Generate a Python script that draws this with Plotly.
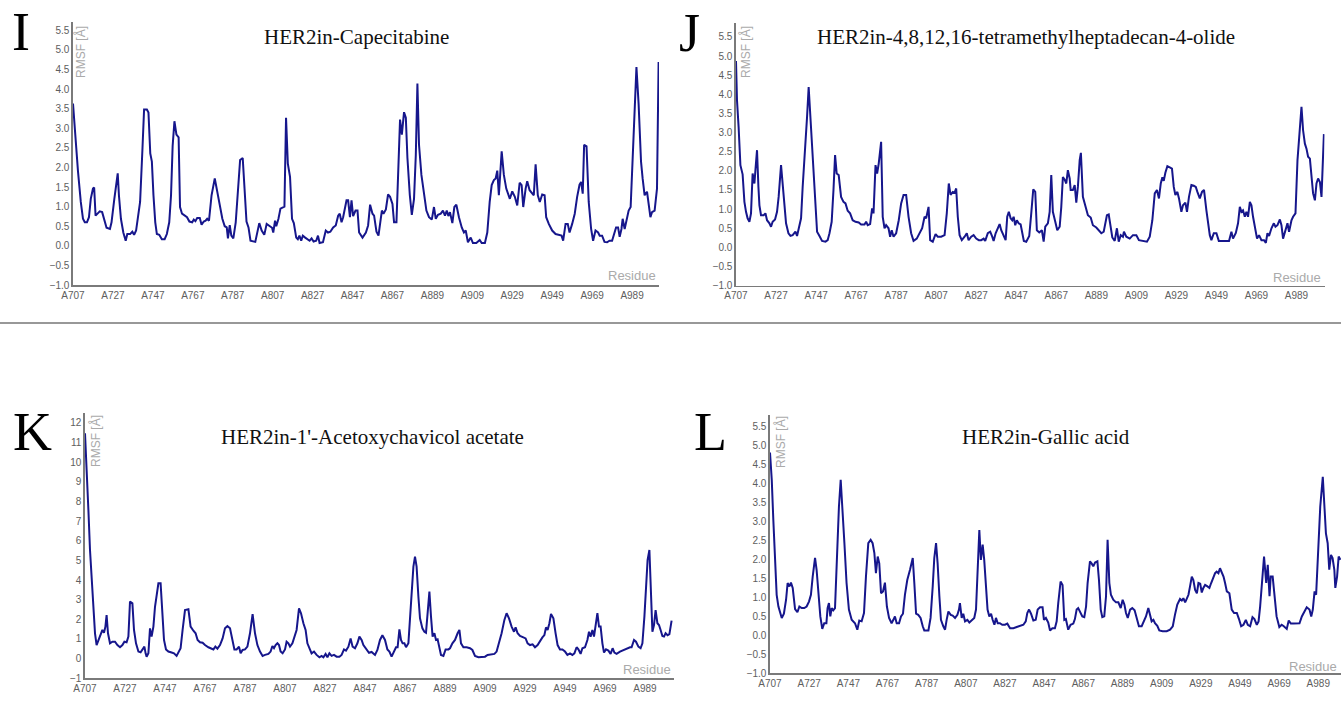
import plotly.graph_objects as go

W, H = 1341, 711

# ---------------- data ----------------
tick_idx = [0, 20, 40, 60, 80, 100, 120, 140, 160, 180, 200, 220, 240, 260, 280]
tick_labels = ["A707", "A727", "A747", "A767", "A787", "A807", "A827", "A847",
               "A867", "A889", "A909", "A929", "A949", "A969", "A989"]

titles = ["HER2in-Capecitabine",
          "HER2in-4,8,12,16-tetramethylheptadecan-4-olide",
          "HER2in-1'-Acetoxychavicol acetate",
          "HER2in-Gallic acid"]
letters = ["I", "J", "K", "L"]

# Panel I : residue index (0 = A707) and RMSF
I_pos = [0, 0.5, 1.7, 2.5, 3.9, 5, 5.9, 7, 8, 8.9, 10, 10.6, 11.3, 12.3, 13.4, 14.6, 15.6, 16.8, 18.5, 19.3,
         20.7, 22.4, 23, 24, 25.2, 26.4, 27.2, 28.6, 29.7, 30.6, 31.6, 32.8, 33.6, 34.8, 35.6, 37, 37.8, 38.7,
         39.5, 40.3, 41.2, 42, 43.2, 44.5, 45.9, 47, 48.2, 49.1, 49.9, 50.8, 51.8, 52.9, 53.6, 54.6, 56, 57.1,
         58.3, 59.7, 60.5, 61.3, 62.2, 63.5, 64.4, 65.5, 66.4, 67.2, 68.1, 69.4, 71, 72.3, 73.4, 74.8, 76, 77,
         77.6, 78.5, 79.3, 80.3, 81.5, 82.7, 83.7, 85, 85.9, 86.9, 87.9, 88.9, 91.3, 92.4, 93.3, 94.5, 95.8, 97,
         98.3, 99.7, 100.3, 101.2, 101.8, 102.9, 103.9, 105, 105.9, 106.7, 107.6, 108.7, 109.7, 110.6, 111.8,
         112.6, 113.4, 114.3, 115.1, 116.3, 117.3, 118.5, 119.5, 120.5, 121.8, 122.7, 123.5, 125.2, 126.6, 127.7,
         128.9, 130.3, 131.6, 132.8, 133.6, 134.5, 135.3, 137, 137.8, 138.7, 139.5, 140.3, 141.5, 142.5, 143.3,
         145, 146.7, 147.8, 148.8, 150, 150.8, 152, 153, 153.8, 154.7, 155.5, 156.7, 157.8, 158.8, 160, 160.8,
         162, 163, 163.8, 164.7, 165.8, 166.7, 167.5, 168.7, 169.7, 170.8, 171.7, 172.5, 173.3, 174.5, 175.8,
         177, 178.3, 179.7, 180.8, 181.7, 182.8, 184.2, 185.3, 186.3, 187.2, 188, 188.8, 190, 191, 192, 193.3,
         194.7, 195.8, 196.7, 197.8, 199.2, 200.3, 202, 203.7, 204.7, 206.3, 207.5, 208.7, 209.7, 210.8, 211.7,
         212.5, 213.3, 214.7, 215.8, 217, 218, 218.8, 220, 221.3, 222.5, 223.7, 224.7, 225.5, 226.7, 227.5,
         228.7, 230, 230.8, 231.7, 232.8, 233.8, 235, 236.2, 237, 238.3, 240, 241.7, 243.3, 244.7, 245.5, 246.7,
         247.8, 248.7, 250, 251.3, 252.5, 253.7, 254.5, 255.3, 256, 257.2, 258.3, 259.5, 260.5, 261.7, 263,
         263.8, 265, 266.2, 267.5, 268.7, 270, 270.8, 272, 273, 273.8, 274.7, 275.3, 276.3, 277.5, 278.3, 279.3,
         280.5, 282.2, 283.3, 284.5, 285.3, 286.3, 287.5, 288.3, 289.2, 290, 291.3, 292.5, 293.3]
I_rmsf = [3.63, 3.27, 2.24, 1.9, 1.12, 0.69, 0.6, 0.6, 0.73, 1.2, 1.46, 1.49, 0.77, 0.82, 0.88, 0.86, 0.64, 0.46,
          0.43, 0.6, 1.2, 1.85, 1.29, 0.69, 0.34, 0.13, 0.3, 0.3, 0.36, 0.28, 0.39, 0.86, 1.12, 2.49, 3.48, 3.48,
          3.4, 2.36, 2.15, 1.29, 0.6, 0.3, 0.28, 0.17, 0.17, 0.3, 0.6, 1.29, 2.54, 3.18, 2.84, 2.77, 0.99, 0.82,
          0.77, 0.73, 0.62, 0.6, 0.67, 0.63, 0.71, 0.71, 0.54, 0.62, 0.64, 0.69, 0.64, 1.29, 1.72, 1.38, 1.03,
          0.69, 0.5, 0.47, 0.19, 0.53, 0.26, 0.19, 0.6, 1.55, 2.19, 2.24, 1.42, 0.62, 0.47, 0.13, 0.1, 0.34, 0.58,
          0.39, 0.28, 0.56, 0.52, 0.46, 0.34, 0.64, 0.5, 0.69, 0.95, 0.99, 1.0, 3.27, 2.1, 1.76, 0.69, 0.58, 0.21,
          0.17, 0.26, 0.13, 0.26, 0.21, 0.17, 0.13, 0.19, 0.11, 0.13, 0.26, 0.07, 0.09, 0.39, 0.34, 0.36, 0.47,
          0.52, 0.77, 0.82, 0.6, 0.73, 1.16, 1.16, 0.73, 1.16, 0.76, 0.9, 0.9, 0.34, 0.21, 0.34, 0.52, 1.05, 0.82,
          0.77, 0.36, 0.26, 0.6, 0.9, 0.82, 0.93, 1.31, 1.25, 1.07, 0.6, 0.6, 2.32, 3.22, 2.84, 3.41, 3.27, 2.24,
          1.29, 0.79, 1.2, 2.32, 4.14, 2.58, 1.81, 1.29, 0.9, 0.73, 0.67, 0.99, 0.69, 0.79, 0.82, 0.9, 0.77, 0.9,
          0.76, 0.86, 0.58, 0.99, 1.05, 0.73, 0.47, 0.34, 0.39, 0.09, 0.21, 0.07, 0.07, 0.15, 0.07, 0.07, 0.34,
          1.12, 1.55, 1.68, 1.72, 1.92, 1.29, 2.41, 1.81, 1.46, 1.29, 1.2, 1.39, 1.25, 1.03, 1.61, 1.55, 0.99,
          1.46, 1.65, 1.42, 1.33, 1.29, 2.08, 1.29, 1.12, 1.31, 1.29, 0.73, 0.56, 0.39, 0.3, 0.28, 0.26, 0.13,
          0.56, 0.56, 0.34, 0.56, 0.82, 1.25, 1.56, 1.63, 1.33, 2.58, 2.54, 1.12, 0.43, 0.13, 0.39, 0.34, 0.26,
          0.26, 0.1, 0.09, 0.13, 0.13, 0.26, 0.47, 0.47, 0.23, 0.43, 0.69, 0.43, 0.69, 0.9, 0.99, 2.41, 4.56,
          3.61, 2.15, 1.72, 1.29, 1.38, 1.12, 0.73, 0.86, 0.9, 1.46, 4.69]

# Panel J
J_pos = [0, 0.5, 1.3, 2.2, 3.3, 4.2, 5, 5.8, 6.7, 7.5, 8.3, 9.2, 9.7, 10.5, 11.2, 11.7, 12.5, 13.8, 14.7, 15.5,
         16.7, 17.5, 18.3, 19.5, 20.5, 21.3, 22.5, 23.3, 24.2, 25, 26.2, 27.2, 28.3, 29.7, 30.5, 31.7, 32.5,
         33.3, 34.7, 35.5, 36.3, 37.2, 38.3, 39.7, 40.5, 41.7, 43, 44.7, 45.8, 46.7, 47.8, 48.7, 49.5, 50.3,
         51.3, 52.5, 53.7, 54.7, 55.8, 57, 58.3, 59.7, 61.3, 62.5, 64.2, 65, 65.8, 67, 68, 68.7, 69.7, 70.5,
         71.3, 72.5, 73.3, 74.2, 75, 76.2, 77, 77.8, 78.7, 80, 81.3, 82.5, 83.7, 85, 86.2, 87.5, 88.7, 90.3,
         91.7, 93, 94.2, 95, 96.2, 97, 98.3, 99.7, 100.8, 102.5, 104.2, 105.3, 106.3, 107.2, 108.3, 109.2, 110,
         110.8, 111.7, 112.8, 114.2, 115.3, 116.2, 117.5, 118.7, 120, 121.3, 122.5, 123.7, 124.5, 125.8, 127,
         128, 128.7, 129.7, 130.8, 131.7, 132.5, 133.7, 134.7, 135.5, 136.3, 137.2, 138, 138.7, 139.5, 140.3,
         141.2, 142.2, 143, 143.8, 145, 146.5, 147.5, 148.5, 149.5, 150.3, 151.5, 152.8, 153.7, 154.5, 155.8,
         156.7, 157.5, 158.3, 159.5, 160.5, 161.7, 162.5, 163.3, 164.2, 165, 165.8, 166.7, 167.2, 168.3, 169.2,
         170, 170.8, 171.7, 172.3, 173.3, 174.5, 175.8, 177.2, 178.3, 180, 181.3, 182.5, 183.7, 184.7, 185.3,
         186.2, 187, 188, 189.2, 190.3, 191.2, 192.2, 193.3, 193.8, 195, 196.7, 198.3, 200, 201.3, 203.3,
         205.3, 206.7, 208, 209.2, 210.3, 211.3, 212.2, 213, 213.7, 214.5, 215.5, 216.7, 217.8, 218.7, 219.5,
         220.5, 221.3, 222.5, 223.3, 224.5, 225.3, 226.3, 227.5, 228.7, 229.7, 230.5, 231.7, 232.8, 233.8, 235,
         235.8, 236.7, 237.5, 238.7, 240, 241.2, 243, 245, 246.3, 247.5, 248.3, 249.7, 250.8, 251.7, 252.5,
         253.3, 254.2, 255, 255.8, 256.7, 257.5, 258.3, 259.2, 260.3, 261.3, 262.5, 263.8, 264.7, 265.5, 266.3,
         267.5, 268.7, 269.5, 270.5, 271.7, 272.5, 273.3, 274.5, 275.5, 276.3, 277.5, 278.3, 279.5, 280.5,
         281.7, 282.5, 283.3, 284.2, 285, 285.8, 286.7, 287.5, 288.3, 289.2, 290, 290.8, 291.7, 292.5, 293.7]
J_rmsf = [4.87, 3.84, 3.15, 2.15, 1.91, 1.19, 0.93, 0.76, 0.67, 0.89, 1.93, 1.67, 2.02, 2.54, 1.58, 1.1, 0.84,
          0.84, 0.89, 0.71, 0.63, 0.54, 0.67, 0.73, 0.93, 1.32, 2.15, 1.67, 1.06, 0.63, 0.37, 0.3, 0.32, 0.41,
          0.3, 0.54, 0.76, 1.58, 2.63, 3.41, 4.19, 3.41, 2.19, 1.06, 0.41, 0.3, 0.17, 0.15, 0.19, 0.37, 0.67,
          1.5, 2.41, 1.93, 1.89, 1.32, 1.19, 1.15, 0.96, 0.89, 0.71, 0.67, 0.65, 0.6, 0.6, 0.67, 0.58, 0.61,
          1.02, 0.89, 2.15, 1.93, 2.19, 2.76, 0.8, 0.5, 0.58, 0.5, 0.28, 0.45, 0.28, 0.37, 0.71, 1.15, 1.37,
          1.37, 0.8, 0.37, 0.17, 0.23, 0.37, 0.5, 0.8, 0.76, 1.06, 0.19, 0.15, 0.35, 0.28, 0.28, 0.32, 0.89,
          1.67, 1.37, 1.45, 1.43, 1.54, 0.8, 0.32, 0.19, 0.28, 0.37, 0.19, 0.28, 0.32, 0.23, 0.19, 0.19, 0.23,
          0.17, 0.37, 0.41, 0.28, 0.17, 0.37, 0.5, 0.61, 0.45, 0.3, 0.19, 0.8, 0.93, 0.76, 0.71, 0.8, 0.58,
          0.71, 0.63, 0.6, 0.32, 0.17, 0.15, 0.3, 0.89, 1.52, 1.45, 0.45, 0.39, 0.45, 0.15, 0.54, 0.63, 0.93,
          1.89, 0.93, 0.67, 0.45, 0.54, 1.06, 1.84, 1.77, 1.67, 2.02, 1.8, 1.5, 1.5, 1.63, 1.17, 1.58, 2.28,
          2.47, 1.32, 1.06, 0.84, 0.78, 0.58, 0.52, 0.43, 0.37, 0.41, 0.63, 0.84, 0.86, 0.58, 0.26, 0.17, 0.5,
          0.15, 0.32, 0.28, 0.41, 0.28, 0.23, 0.32, 0.32, 0.19, 0.17, 0.15, 0.28, 0.71, 1.41, 1.5, 1.28, 1.67,
          1.83, 1.74, 1.95, 2.12, 2.09, 2.06, 1.58, 1.37, 1.45, 1.28, 0.93, 1.1, 1.17, 0.93, 1.32, 1.63, 1.61,
          1.58, 1.45, 1.28, 1.45, 1.5, 0.97, 0.67, 0.32, 0.19, 0.37, 0.37, 0.17, 0.17, 0.17, 0.17, 0.41, 0.23,
          0.38, 0.63, 1.06, 0.93, 0.97, 0.8, 0.93, 0.8, 1.19, 1.1, 0.8, 0.5, 0.23, 0.32, 0.19, 0.19, 0.12,
          0.37, 0.3, 0.5, 0.63, 0.54, 0.58, 0.73, 0.58, 0.23, 0.45, 0.63, 0.41, 0.71, 0.8, 0.89, 2.28, 3.15,
          3.67, 3.06, 2.71, 2.58, 2.37, 2.32, 1.93, 1.41, 1.23, 1.67, 1.8, 1.71, 1.32, 2.96]

# Panel K
K_pos = [0, 0.8, 1.7, 2.5, 3.3, 4.2, 5, 5.8, 6.7, 7.8, 8.7, 9.5, 10.2, 10.8, 11.5, 12.5, 13.7, 15, 16.2, 17.5,
         18.7, 19.7, 20.8, 21.7, 22.5, 23.7, 24.5, 25.5, 26.7, 27.8, 28.8, 29.7, 30.3, 30.8, 31.7, 32.5, 33.3,
         34.2, 35, 35.8, 36.7, 37.8, 38.7, 39.5, 40.5, 41.7, 43.3, 44.5, 45.8, 46.7, 47.8, 48.8, 50, 51.7, 52.8,
         54.2, 55.3, 56.3, 57.5, 58.8, 60, 61.7, 63.3, 64.2, 65.2, 66.2, 67.5, 68.8, 70, 71.2, 72.5, 73.7, 74.7,
         75.8, 77, 77.8, 78.8, 80, 81.2, 82.5, 83.8, 85, 86.2, 87.5, 88.8, 90, 91.7, 92.8, 93.7, 94.5, 95.3,
         96.2, 97, 97.8, 98.8, 100, 100.8, 101.7, 102.5, 103.7, 104.7, 105.8, 107, 108, 109.2, 110.3, 111.2,
         112.2, 113.3, 114.5, 115.8, 117.2, 118.3, 119.2, 120.3, 121.2, 122.2, 123.3, 124.5, 125.8, 127.2,
         128.3, 129.5, 130.5, 131.7, 132.8, 133.8, 135, 136.2, 137.2, 138.3, 139.2, 140, 140.8, 142, 143.3, 145,
         146.2, 147.5, 148.7, 150, 151.2, 152.2, 153.3, 154.5, 155.5, 156.3, 157.2, 158, 158.8, 159.7, 160.5,
         161.7, 162.5, 163.3, 164.2, 165, 165.8, 166.7, 167.5, 168.7, 169.7, 170.5, 171.3, 172.2, 173, 173.8,
         174.7, 175.5, 176.3, 177.2, 178, 179.2, 180.3, 181.7, 182.5, 183.7, 185, 186.3, 187.2, 188, 189.2,
         190.8, 192.5, 193.7, 195, 196.7, 198.3, 200, 201.3, 203, 204.7, 205.8, 207, 208.3, 209.7, 210.8, 212,
         213.3, 214.5, 215.3, 216.3, 217.5, 219.2, 220.3, 221.3, 222.5, 223.8, 225, 226.3, 227.5, 228.7, 229.7,
         230.5, 231.3, 232.2, 233, 234.2, 235.3, 236.3, 237.5, 238.7, 240, 241.2, 242.5, 243.7, 244.7, 245.8,
         246.7, 247.8, 248.7, 250, 251.2, 252, 252.8, 253.7, 254.5, 255.3, 256.2, 257, 257.8, 258.7, 259.5,
         260.5, 261.7, 262.8, 263.8, 264.7, 265.8, 267.5, 269.2, 270.8, 272.5, 273.3, 274.5, 275.5, 276.7,
         277.8, 278.7, 279.7, 280.5, 281.3, 282.2, 282.8, 283.7, 284.5, 285.3, 286.2, 287, 287.8, 288.7, 289.5,
         290.3, 291.3, 292.2, 293.3]
K_rmsf = [11.46, 9.85, 7.56, 5.53, 4.34, 2.47, 1.29, 0.69, 0.95, 1.2, 1.46, 1.32, 1.63, 2.22, 1.29, 0.78, 0.86,
          0.86, 0.69, 0.58, 0.69, 0.86, 0.83, 1.12, 2.9, 2.81, 1.46, 0.78, 0.36, 0.32, 0.47, 0.61, 0.27, 0.1,
          0.27, 1.54, 1.12, 1.63, 2.64, 3.32, 3.83, 3.83, 2.14, 0.95, 0.47, 0.36, 0.31, 0.27, 0.14, 0.36, 0.53,
          1.46, 2.47, 2.51, 1.63, 1.42, 1.29, 0.95, 0.83, 0.81, 0.69, 0.58, 0.53, 0.47, 0.61, 0.51, 0.69, 1.03,
          1.54, 1.66, 1.54, 0.95, 0.47, 0.47, 0.61, 0.27, 0.44, 0.47, 0.61, 1.29, 2.27, 1.29, 0.69, 0.36, 0.14,
          0.19, 0.24, 0.36, 0.64, 0.53, 0.69, 0.78, 0.69, 0.36, 0.27, 0.47, 0.86, 0.78, 0.61, 0.78, 1.12, 1.46,
          2.56, 2.31, 1.8, 1.46, 0.78, 0.53, 0.27, 0.36, 0.19, 0.07, 0.14, 0.07, 0.24, 0.07, 0.27, 0.14, 0.19,
          0.1, 0.1, 0.19, 0.47, 0.41, 0.61, 1.03, 0.61, 0.53, 0.78, 1.12, 0.95, 0.69, 0.58, 0.47, 0.3, 0.34,
          0.19, 0.44, 0.95, 1.19, 0.95, 0.47, 0.36, 0.1, 0.36, 0.58, 0.58, 1.49, 0.95, 0.78, 0.78, 0.58, 0.78,
          1.97, 3.49, 4.68, 5.19, 4.68, 3.15, 2.05, 1.54, 1.37, 1.32, 2.47, 3.41, 2.14, 1.12, 1.29, 0.95, 0.98,
          0.61, 0.19, 0.14, 0.47, 0.47, 0.53, 0.78, 0.95, 1.29, 1.46, 0.78, 0.58, 0.58, 0.53, 0.44, 0.14, 0.07,
          0.1, 0.1, 0.19, 0.22, 0.24, 0.36, 0.78, 1.29, 1.97, 2.31, 2.05, 1.63, 1.37, 1.59, 1.29, 1.15, 1.08,
          1.03, 0.78, 0.69, 0.73, 0.58, 0.69, 0.92, 1.08, 1.2, 1.59, 1.46, 1.8, 2.27, 2.05, 1.29, 0.69, 0.47,
          0.47, 0.36, 0.19, 0.27, 0.19, 0.27, 0.58, 0.47, 0.24, 0.53, 0.58, 0.95, 1.37, 1.12, 1.46, 1.12, 1.8,
          2.31, 1.63, 1.63, 0.78, 0.31, 0.47, 0.41, 0.24, 0.53, 0.31, 0.24, 0.36, 0.44, 0.53, 0.58, 0.58, 0.95,
          0.86, 0.61, 0.53, 0.78, 2.14, 3.83, 5.02, 5.53, 4.17, 1.37, 1.71, 2.47, 1.8, 1.71, 1.46, 1.15, 1.12,
          1.29, 1.19, 1.25, 1.93]

# Panel L
L_pos = [0, 0.9, 1.7, 2.6, 3.4, 4.3, 5.1, 6, 7.1, 8.2, 9, 9.9, 10.7, 11.6, 12.8, 14, 15, 16.2, 17.5, 18.7,
         19.9, 20.9, 21.8, 23, 23.8, 24.7, 25.7, 26.7, 27.7, 28.8, 29.4, 30.1, 30.8, 31.5, 32.3, 33.2, 34, 35.2,
         36.1, 36.9, 38, 39.1, 40.3, 41.7, 43.4, 44.6, 45.6, 46.8, 48, 49, 50.2, 51.4, 52.4, 53.3, 54.1, 55,
         55.8, 56.7, 57.7, 58.7, 59.7, 60.8, 62.1, 63, 63.8, 64.7, 65.9, 66.9, 67.9, 68.9, 70.1, 71.5, 72.9,
         73.7, 74.6, 75.7, 76.9, 78, 78.8, 80.9, 82, 83.1, 83.9, 84.8, 85.6, 86.5, 87.3, 88.5, 89.4, 90.2, 91.1,
         92.3, 93.3, 94.5, 95.7, 96.5, 97, 97.9, 98.7, 99.6, 100.8, 101.8, 103, 104.3, 105.2, 106, 106.9,
         107.7, 108.6, 109.4, 110.3, 111.1, 112, 112.9, 113.7, 114.6, 115.4, 116.3, 117.4, 118.6, 120, 121.2,
         122.6, 124.3, 126, 127.7, 129.4, 130.6, 131.4, 132.3, 133.3, 134.5, 135.7, 136.7, 137.9, 139.2, 139.9,
         140.9, 142.1, 143, 144.2, 145.5, 146.4, 147.2, 148.4, 149.4, 150.3, 151.1, 152.3, 153.5, 154.9, 155.7,
         156.6, 157.4, 158.3, 159.5, 160.5, 161.4, 162.2, 163.4, 164.3, 165.1, 166, 167.2, 168, 168.9, 169.7,
         170.7, 171.6, 172.4, 173.3, 174.1, 175.3, 176.7, 177.9, 179.1, 180.1, 181, 181.8, 182.7, 183.9, 185,
         186.2, 187.3, 188.4, 189.8, 191, 192, 193.2, 194.1, 194.9, 195.8, 196.6, 197.8, 198.8, 200.5, 202.6,
         204.3, 205.7, 206.8, 208, 209.4, 210.3, 211.1, 212, 212.8, 213.7, 214.5, 215.4, 216.2, 217.1, 218,
         218.8, 219.7, 220.5, 221.3, 222.2, 223.4, 224.4, 225.3, 226.4, 227.3, 228.1, 229, 229.8, 230.7, 231.6,
         232.4, 233.3, 234.6, 235.8, 237, 238.4, 239.5, 240.6, 241.8, 243, 244, 245.2, 246.4, 247.4, 248.6,
         249.5, 250.3, 251.2, 252.3, 253.4, 254.2, 255.1, 255.7, 256.7, 257.5, 258.7, 260.1, 261.3, 262.4,
         263.9, 264.9, 266, 267.3, 269, 270.4, 271.6, 272.8, 274.1, 275.5, 276.4, 277.2, 278.1, 278.9, 279.8,
         281, 282.3, 283.2, 283.9, 284.8, 285.6, 286.5, 287.3, 288.2, 288.7, 289.6, 290.4, 291.3]
L_rmsf = [4.82, 4.1, 3.04, 1.73, 1.07, 0.76, 0.59, 0.46, 0.57, 0.94, 1.38, 1.29, 1.39, 1.25, 0.69, 0.61, 0.76,
          0.72, 0.72, 0.76, 0.89, 1.07, 1.55, 2.04, 1.73, 1.03, 0.5, 0.17, 0.32, 0.32, 0.72, 0.85, 0.5, 0.72,
          0.66, 0.72, 1.82, 3.39, 4.1, 3.48, 2.43, 1.38, 0.68, 0.41, 0.32, 0.15, 0.39, 0.37, 0.59, 1.55, 2.43,
          2.52, 2.43, 2.17, 1.64, 2.08, 1.9, 1.11, 1.16, 1.39, 0.76, 0.46, 0.32, 0.41, 0.5, 0.32, 0.32, 0.5,
          0.57, 1.07, 1.46, 1.73, 2.04, 1.38, 0.57, 0.54, 0.46, 0.24, 0.13, 0.13, 0.46, 1.29, 2.04, 2.43, 1.9,
          1.03, 0.41, 0.24, 0.15, 0.41, 0.63, 0.54, 0.52, 0.46, 0.54, 0.68, 0.85, 0.46, 0.57, 0.37, 0.41, 0.34,
          0.39, 0.46, 0.68, 1.55, 2.78, 1.99, 2.39, 1.99, 1.29, 0.68, 0.5, 0.57, 0.41, 0.28, 0.46, 0.32, 0.32,
          0.28, 0.28, 0.31, 0.19, 0.19, 0.22, 0.24, 0.28, 0.37, 0.59, 0.68, 0.57, 0.39, 0.41, 0.68, 0.74, 0.74,
          0.41, 0.46, 0.34, 0.13, 0.19, 0.19, 0.37, 0.85, 1.42, 1.33, 0.41, 0.43, 0.15, 0.28, 0.31, 0.43, 0.68,
          0.72, 0.61, 0.5, 0.48, 0.76, 1.38, 1.95, 1.89, 1.82, 1.92, 1.95, 1.46, 0.68, 0.48, 0.5, 1.03, 2.52,
          1.38, 1.07, 0.94, 0.87, 0.87, 0.72, 0.94, 0.81, 0.59, 0.46, 0.68, 0.72, 0.66, 0.41, 0.24, 0.24, 0.37,
          0.5, 0.72, 0.5, 0.37, 0.41, 0.32, 0.25, 0.13, 0.11, 0.11, 0.15, 0.24, 0.54, 0.81, 0.96, 0.92, 0.98,
          0.87, 0.96, 1.07, 1.29, 1.55, 1.46, 1.2, 1.11, 1.38, 1.36, 1.13, 1.25, 1.33, 1.29, 1.25, 1.38, 1.55,
          1.64, 1.68, 1.64, 1.77, 1.66, 1.55, 1.38, 1.16, 1.11, 0.68, 0.59, 0.59, 0.43, 0.24, 0.28, 0.41, 0.28,
          0.24, 0.48, 0.43, 0.28, 0.37, 0.76, 1.38, 2.08, 1.38, 1.86, 1.03, 1.55, 1.55, 1.03, 0.5, 0.22, 0.28,
          0.24, 0.17, 0.39, 0.31, 0.31, 0.31, 0.32, 0.5, 0.63, 0.74, 0.68, 0.5, 0.68, 1.16, 1.07, 2.17, 3.39,
          4.18, 3.48, 2.69, 2.43, 1.73, 2.12, 2.04, 1.73, 1.25, 1.55, 2.08, 1.99]

series = [(I_pos, I_rmsf), (J_pos, J_rmsf), (K_pos, K_rmsf), (L_pos, L_rmsf)]
for p, v in series:
    assert len(p) == len(v), (len(p), len(v))

# ---------------- layout geometry (pixels) ----------------
def fx(px):
    return px / W

def fy(py):
    return 1 - py / H

panels = [
    dict(l=73, r=659, t=21.7, b=285, xr=[0, 293.5], yr=[-1.0, 5.72], dt=0.5, fmt=".1f"),
    dict(l=736, r=1324.5, t=22.7, b=285.7, xr=[0, 294], yr=[-1.0, 5.87], dt=0.5, fmt=".1f"),
    dict(l=85, r=674, t=413.3, b=678.3, xr=[0, 294.5], yr=[-1, 12.48], dt=1, fmt="d"),
    dict(l=770, r=1341, t=415, b=673.3, xr=[0, 291.6], yr=[-1.0, 5.81], dt=0.5, fmt=".1f"),
]

LINE_COLOR = "#16168c"
AXIS_COLOR = "#7a7a7a"
TICK_FONT = dict(family="Liberation Sans, Arial", size=10, color="#5e5e5e")

fig = go.Figure()
layout = dict(template="none", width=W, height=H, margin=dict(l=0, r=0, t=0, b=0, pad=0, autoexpand=False),
              paper_bgcolor="white", plot_bgcolor="white", showlegend=False)

for k, (pnl, (pos, val)) in enumerate(zip(panels, series), start=1):
    sfx = "" if k == 1 else str(k)
    fig.add_trace(go.Scatter(x=pos, y=val, mode="lines",
                             line=dict(color=LINE_COLOR, width=2),
                             xaxis="x" + sfx, yaxis="y" + sfx, hoverinfo="skip"))
    layout["xaxis" + sfx] = dict(
        domain=[fx(pnl["l"]), min(1.0, fx(pnl["r"]))], range=pnl["xr"], anchor="y" + sfx,
        tickmode="array", tickvals=tick_idx, ticktext=tick_labels, automargin=False,
        showline=True, linecolor=AXIS_COLOR, linewidth=1.6,
        showgrid=False, zeroline=False, ticks="", tickfont=TICK_FONT, fixedrange=True)
    layout["yaxis" + sfx] = dict(
        domain=[fy(pnl["b"]), fy(pnl["t"])], range=pnl["yr"], anchor="x" + sfx,
        tick0=-1, dtick=pnl["dt"], tickformat=pnl["fmt"], automargin=False,
        showline=True, linecolor=AXIS_COLOR, linewidth=1.6,
        showgrid=False, zeroline=False, ticks="", tickfont=TICK_FONT, fixedrange=True)

fig.update_layout(**layout)

# ---------------- text ----------------
serif = "Liberation Serif, Times New Roman, serif"
sans = "Liberation Sans, Arial, sans-serif"

title_pos = [(356, 37), (1026, 37), (372, 437), (1046, 437)]
letter_pos = [(20.5, 32), (689, 33), (32.5, 432), (710, 432)]
rmsf_pos = [(81, 52), (746, 52), (95, 441), (780, 442)]
residue_pos = [(658, 276, "right"), (1323, 277, "right"), (673, 669, "right"), (1339, 666, "right")]

ann = []
for t, (x, y) in zip(titles, title_pos):
    ann.append(dict(text=t, x=fx(x), y=fy(y), xref="paper", yref="paper",
                    xanchor="center", yanchor="middle", showarrow=False,
                    font=dict(family=serif, size=21, color="#111111")))
for t, (x, y) in zip(letters, letter_pos):
    ann.append(dict(text=t, x=fx(x), y=fy(y), xref="paper", yref="paper",
                    xanchor="center", yanchor="middle", showarrow=False,
                    font=dict(family=serif, size=54, color="#000000")))
for (x, y) in rmsf_pos:
    ann.append(dict(text="RMSF [Å]", x=fx(x), y=fy(y), xref="paper", yref="paper",
                    xanchor="center", yanchor="middle", showarrow=False, textangle=-90,
                    font=dict(family=sans, size=12, color="#aaaaaa")))
for (x, y, a) in residue_pos:
    ann.append(dict(text="Residue", x=fx(x), y=fy(y), xref="paper", yref="paper",
                    xanchor=a, yanchor="middle", showarrow=False,
                    font=dict(family=sans, size=13, color="#aaaaaa")))

fig.update_layout(annotations=ann,
                  shapes=[dict(type="line", xref="paper", yref="paper",
                               x0=0, x1=1, y0=fy(323), y1=fy(323),
                               line=dict(color="#333333", width=1.2))])

fig.write_html("out.html", config={"displayModeBar": False, "staticPlot": True},
               post_script="document.body.style.margin='0';document.body.style.overflow='hidden';")
